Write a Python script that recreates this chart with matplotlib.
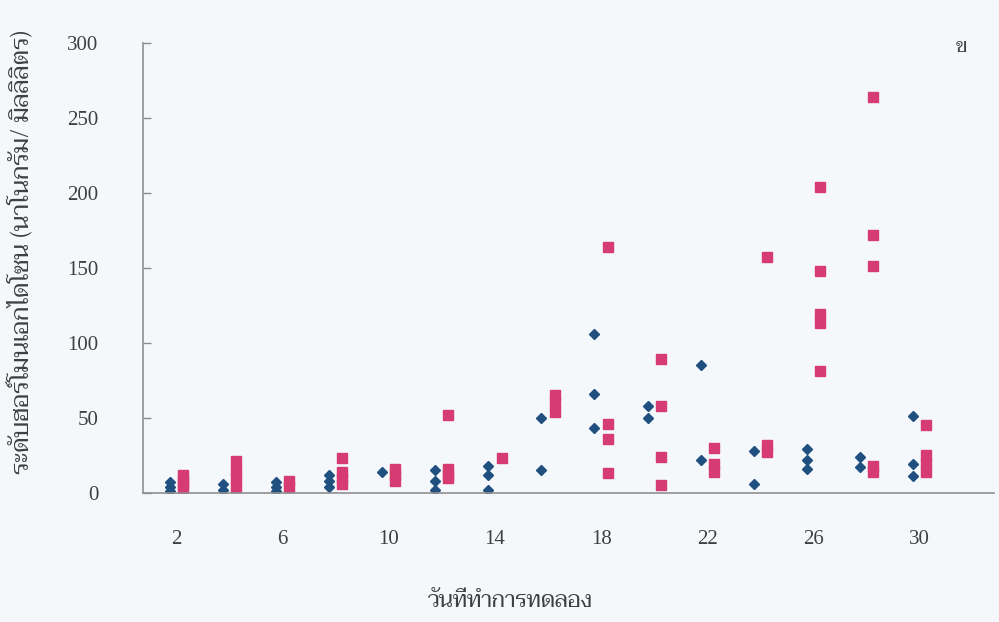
import matplotlib
matplotlib.use("Agg")
import matplotlib.pyplot as plt
from matplotlib import font_manager

# ecdysone level per sampling day, one list of replicate readings per day
days = [2, 4, 6, 8, 10, 12, 14, 16, 18, 20, 22, 24, 26, 28, 30]
group_a = [
    [7, 4, 1], [6, 2], [7, 4, 1], [12, 8, 4], [14], [15, 8, 2], [18, 12, 2],
    [50, 15], [106, 66, 43], [58, 50], [85, 22], [28, 6], [29, 22, 16],
    [24, 17], [51, 19, 11],
]
group_b = [
    [12, 9, 6, 3], [21, 15, 10, 4], [8, 4], [23, 14, 10, 6], [16, 12, 8],
    [52, 16, 12, 10], [23], [65, 60, 54], [164, 46, 36, 13], [89, 58, 24, 5],
    [30, 19, 14], [157, 32, 27], [204, 148, 119, 113, 81],
    [264, 172, 151, 18, 14], [45, 25, 20, 14],
]
x_ticks = [2, 6, 10, 14, 18, 22, 26, 30]
y_ticks = [0, 50, 100, 150, 200, 250, 300]

x_label = "วันที่ทำการทดลอง"
y_label = "ระดับฮอร์โมนเอกไดโซน (นาโนกรัม/ มิลลิลิตร)"
panel_tag = "ข"

# pick a Thai-capable family that is actually installed
installed = {f.name for f in font_manager.fontManager.ttflist}
thai_prefs = ["Taviraj", "Trirong", "Noto Serif Thai", "Pridi", "Sarabun", "Athiti"]
thai_font = next((f for f in thai_prefs if f in installed), "Athiti")
num_font = "Liberation Serif"

bg = "#f5f8fb"
blue = "#1f5080"
pink = "#d63c71"
txt = "#3f3f3f"

xa, ya, xb, yb = [], [], [], []
for d, va, vb in zip(days, group_a, group_b):
    xa += [d - 0.25] * len(va)
    ya += va
    xb += [d + 0.25] * len(vb)
    yb += vb

fig = plt.figure(figsize=(9.99, 6.22), dpi=100, facecolor=bg)
ax = fig.add_axes([0.143, 0.208, 0.852, 0.723], facecolor=bg)

ax.plot(xb, yb, ls="none", marker="s", ms=7.2, color=pink, mec=pink)
ax.plot(xa, ya, ls="none", marker="D", ms=5.4, color=blue, mec=blue)

ax.set_xlim(0.74, 32.8)
ax.set_ylim(0, 300)
ax.set_xticks(x_ticks)
ax.set_yticks(y_ticks)
ax.tick_params(axis="x", length=0, pad=27, labelsize=15, labelcolor=txt)
ax.tick_params(axis="y", direction="in", length=6, width=1, color="#8a8a8a",
               pad=32, labelsize=15, labelcolor=txt)
for lab in ax.get_xticklabels() + ax.get_yticklabels():
    lab.set_fontfamily(num_font)

for s in ["top", "right"]:
    ax.spines[s].set_visible(False)
for s in ["left", "bottom"]:
    ax.spines[s].set_color("#8f8f8f")
    ax.spines[s].set_linewidth(1.2)

fig.text(0.511, 0.033, x_label, ha="center", va="center", fontsize=16,
         color=txt, family=[thai_font, num_font])
fig.text(0.022, 0.595, y_label, ha="center", va="center", rotation=90,
         fontsize=17.5, color=txt, family=[thai_font, num_font])
fig.text(0.962, 0.923, panel_tag, ha="center", va="center", fontsize=14,
         color=txt, family=[thai_font, num_font])

fig.savefig("out.png", facecolor=bg)
